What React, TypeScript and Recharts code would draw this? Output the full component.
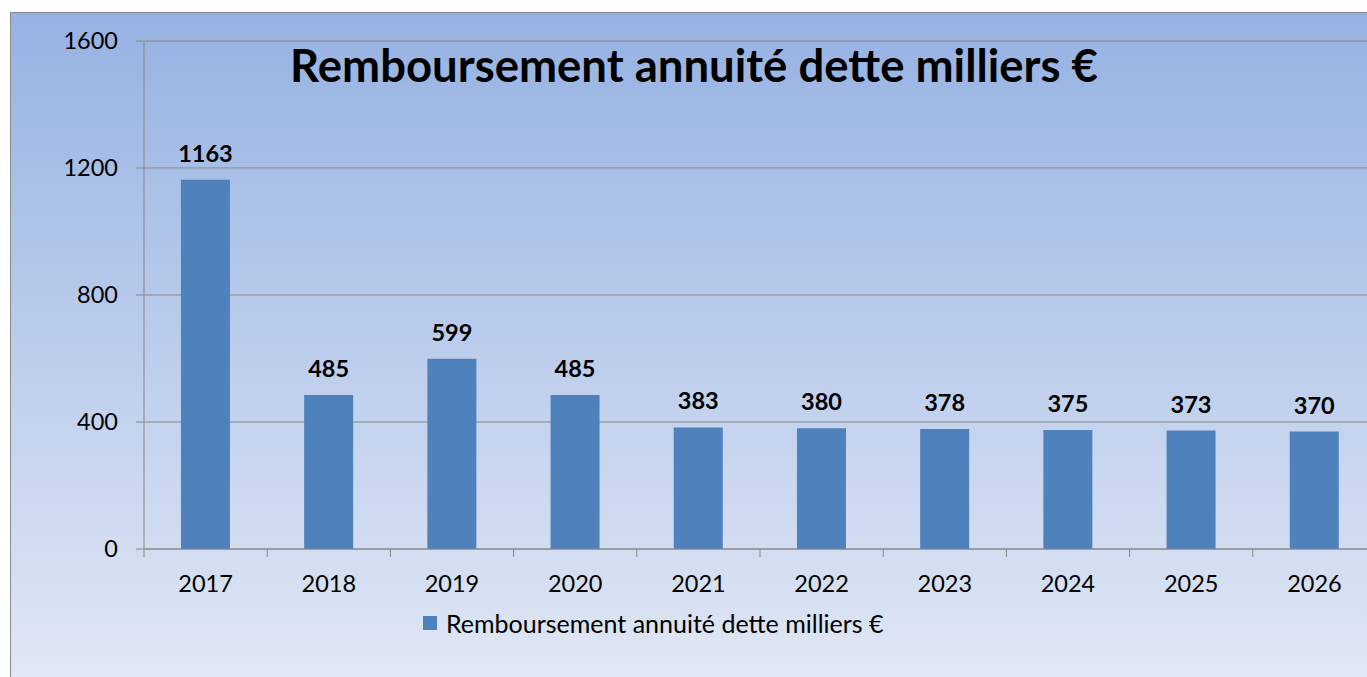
import { BarChart, Bar, XAxis, YAxis, CartesianGrid, Legend, LabelList } from 'recharts';

const years = ['2017', '2018', '2019', '2020', '2021', '2022', '2023', '2024', '2025', '2026'];
const annuites = [1163, 485, 599, 485, 383, 380, 378, 375, 373, 370];
const yTicks = [0, 400, 800, 1200, 1600];

const seriesName = 'Remboursement annuité dette milliers €';
const data = years.map((year, i) => ({ year, value: annuites[i] }));

const FONT = 'Lato, Carlito, "Open Sans", sans-serif';
const GRID = '#878787';

// boundary tick + label for the category axis (Excel style)
const YearTick = (props: any) => {
  const { x, y, payload, width, visibleTicksCount } = props;
  const half = width && visibleTicksCount ? width / visibleTicksCount / 2 : 61.6;
  return (
    <g>
      <line x1={x - half} y1={y} x2={x - half} y2={y + 8} stroke={GRID} />
      <text x={x} y={y + 34} textAnchor="middle" dominantBaseline="central" fontSize={23.5} fill="#000" fontFamily={FONT}>
        {payload.value}
      </text>
    </g>
  );
};

const renderLegend = () => (
  <div style={{ height: 0, overflow: 'visible' }}>
    <div style={{ display: 'flex', alignItems: 'center', gap: 9, whiteSpace: 'nowrap' }}>
      <span style={{ display: 'inline-block', width: 14, height: 14, background: '#4f81bd' }}></span>
      <span style={{ fontSize: 25, color: '#000', fontFamily: FONT }}>{seriesName}</span>
    </div>
  </div>
);

export default function App() {
  return (
    <div style={{ position: 'fixed', left: 0, top: 0, width: 1367, height: 677, overflow: 'hidden', background: '#fff' }}>
      <div
        style={{
          position: 'absolute',
          left: 10,
          top: 12,
          width: 1400,
          height: 700,
          border: '1px solid #8a8a8a',
          background: 'linear-gradient(to bottom, #96b2e2 0px, #e0e7f5 665px)',
        }}
      >
        <div
          style={{
            position: 'absolute',
            left: 0,
            width: 1366,
            top: 26,
            textAlign: 'center',
            fontFamily: FONT,
            fontWeight: 700,
            fontSize: 45.5,
            color: '#000',
            lineHeight: '52px',
          }}
        >
          {seriesName}
        </div>
        <BarChart
          width={1380}
          height={700}
          data={data}
          margin={{ top: 28, right: 15, bottom: 124, left: 53 }}
          barCategoryGap="30%"
        >
          <CartesianGrid horizontal vertical={false} stroke={GRID} />
          <XAxis
            dataKey="year"
            height={40}
            axisLine={{ stroke: GRID }}
            tickLine={false}
            tickSize={0}
            tickMargin={0}
            interval={0}
            tick={<YearTick />}
          />
          <YAxis
            width={80}
            domain={[0, 1600]}
            ticks={yTicks}
            axisLine={{ stroke: GRID }}
            tickLine={{ stroke: GRID }}
            tickSize={8}
            tickMargin={18}
            tick={{ fontSize: 23.5, fill: '#000', fontFamily: FONT }}
          />
          <Legend
            verticalAlign="bottom"
            content={renderLegend}
            wrapperStyle={{ left: 412, top: 595, bottom: 'auto', width: 'auto' }}
          />
          <Bar dataKey="value" name={seriesName} fill="#4f81bd" isAnimationActive={false}>
            <LabelList
              dataKey="value"
              position="top"
              offset={18}
              style={{ fontSize: 23.5, fontWeight: 700, fill: '#000', fontFamily: FONT }}
            />
          </Bar>
        </BarChart>
      </div>
    </div>
  );
}
